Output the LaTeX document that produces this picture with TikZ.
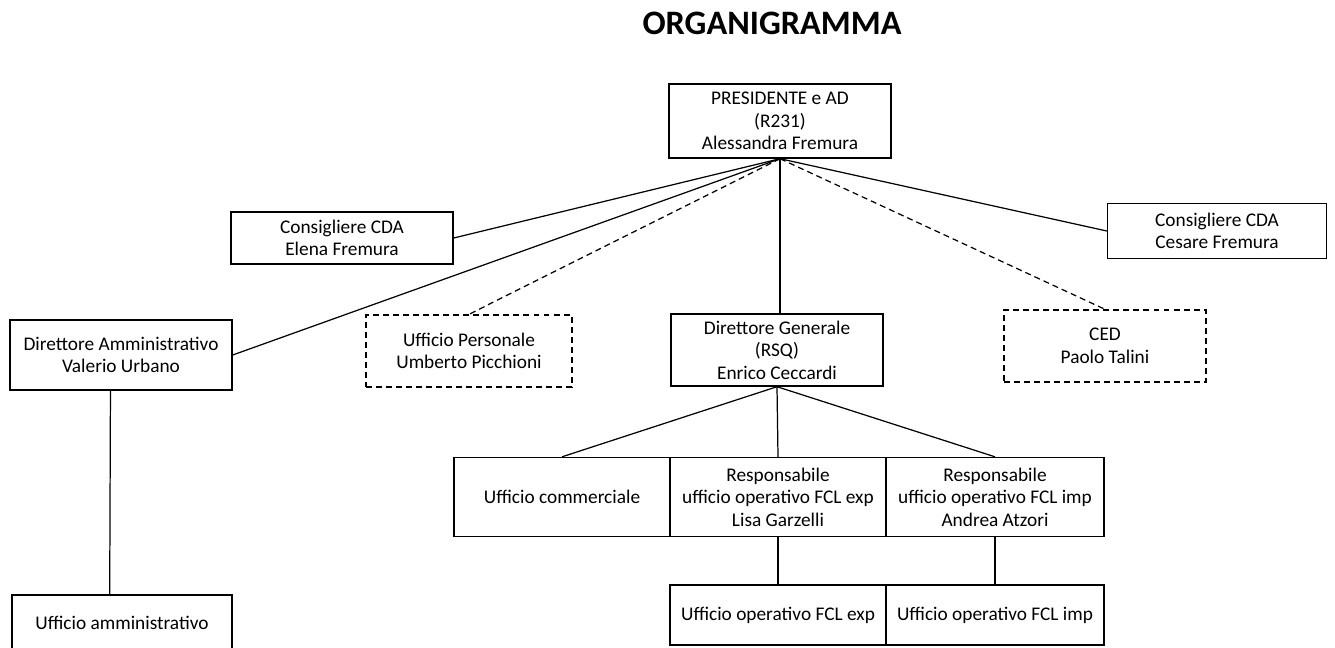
\documentclass[tikz,border=0pt]{standalone}
\usepackage{fontspec}
\setmainfont{Carlito}
\usepackage{tikz}
\usetikzlibrary{positioning}
\tikzset{box/.style={draw,line width=0.8pt,align=center,inner sep=2pt,font=\fontsize{11}{12.8}\selectfont},link/.style={draw,line width=0.7pt},dash2/.style={dash pattern=on 3.4pt off 2.3pt}}

\begin{document}
\begin{tikzpicture}[x=0.02cm,y=-0.02cm,dbox/.style={box,dash2},dlink/.style={link,dash2}]
\useasboundingbox (0,0) rectangle (1335,647);
\node[font=\fontsize{19.5}{22}\selectfont\bfseries] (title) at (772,23) {ORGANIGRAMMA};
% vertice
\node[box,minimum width=4.44cm,minimum height=1.48cm] (pres) at (780,121) {PRESIDENTE e AD\\(R231)\\Alessandra Fremura};
\node[box,minimum width=4.44cm,minimum height=1.04cm] (elena) at (342,238) {Consigliere CDA\\Elena Fremura};
\node[box,minimum width=4.38cm,minimum height=1.1cm] (cesare) at (1217,231) {Consigliere CDA\\Cesare Fremura};
% secondo livello
\node[box,minimum width=4.44cm,minimum height=1.4cm] (diramm) at (121,355) {Direttore Amministrativo\\Valerio Urbano};
\node[dbox,minimum width=4.12cm,minimum height=1.44cm] (pers) at (469,351) {Ufficio Personale\\Umberto Picchioni};
\node[box,minimum width=4.24cm,minimum height=1.44cm] (dirgen) at (777,350) {Direttore Generale\\(RSQ)\\Enrico Ceccardi};
\node[dbox,minimum width=4.04cm,minimum height=1.44cm] (ced) at (1105,346) {CED\\Paolo Talini};
% uffici
\node[box,minimum width=4.32cm,minimum height=1.58cm] (comm) at (562,497) {Ufficio commerciale};
\node[box,minimum width=4.32cm,minimum height=1.58cm] (rexp) at (778,497) {Responsabile\\ufficio operativo FCL exp\\Lisa Garzelli};
\node[box,minimum width=4.36cm,minimum height=1.58cm] (rimp) at (995,497) {Responsabile\\ufficio operativo FCL imp\\Andrea Atzori};
\node[box,minimum width=4.32cm,minimum height=1.2cm] (opexp) at (778,615) {Ufficio operativo FCL exp};
\node[box,minimum width=4.36cm,minimum height=1.2cm] (opimp) at (995,615) {Ufficio operativo FCL imp};
\node[box,minimum width=4.4cm,minimum height=1.12cm] (uamm) at (122,623) {Ufficio amministrativo};
% collegamenti
\draw[link] (pres.south)--(elena.east);\draw[link] (pres.south)--(diramm.east);\draw[link] (pres.south)--(cesare.west);
\draw[link] (pres.south)--(pres.south|-dirgen.north);
\draw[dlink] (pres.south)--(pers.north);\draw[dlink] (pres.south)--(ced.north);
\draw[link] (dirgen.south)--(comm.north);\draw[link] (dirgen.south)--(rexp.north);\draw[link] (dirgen.south)--(rimp.north);
\draw[link] (rexp.south)--(opexp.north);\draw[link] (rimp.south)--(opimp.north);
\draw[link] ([xshift=-6]diramm.south)--([xshift=-7]uamm.north);
\end{tikzpicture}
\end{document}
